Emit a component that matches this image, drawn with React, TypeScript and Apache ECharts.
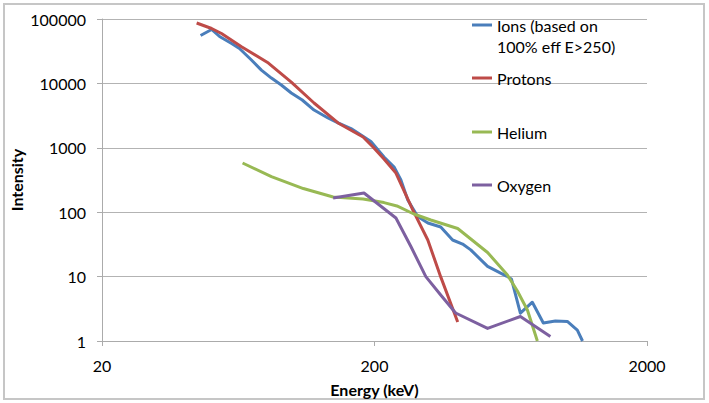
import React, { useEffect, useRef } from "react";
import * as echarts from "echarts";

const ionsEnergy = [46, 50.5, 54, 59.8, 63.9, 70.7, 76.9, 83.7, 91, 99, 108.6, 120, 135, 147, 164, 178.5, 194, 216.7, 236, 250, 265, 288, 314, 350, 387, 421, 451, 520, 610, 636, 686, 759, 833, 922, 1020, 1110, 1160];
const ionsIntensity = [55400, 68700, 53500, 41700, 34800, 23100, 16100, 12100, 9440, 7100, 5520, 3860, 2900, 2430, 1990, 1580, 1250, 720, 503, 316, 155, 86, 68, 59, 37, 32, 26, 14.4, 10.2, 9.2, 2.7, 4.0, 1.9, 2.04, 2.01, 1.48, 1.0];

const protonsEnergy = [44.5, 50.5, 54.9, 65, 81.6, 99, 120, 147, 181.6, 197.5, 216.7, 239.7, 276.6, 313.8, 350, 404];
const protonsIntensity = [86700, 71200, 59500, 37100, 20700, 10500, 4960, 2430, 1470, 1030, 670, 406, 108, 37, 9.9, 1.97];

const heliumEnergy = [65.6, 83.7, 109.6, 141, 181.6, 216.7, 241.7, 278.9, 321.8, 404, 520, 615, 669, 728, 792];
const heliumIntensity = [581, 358, 233, 172, 160, 141, 125, 93.8, 75.7, 55.8, 23.7, 10.6, 5.98, 3.03, 1.0];

const oxygenEnergy = [141, 183, 239.7, 272, 308.6, 350, 397, 520, 686, 884];
const oxygenIntensity = [166, 199, 81.3, 29.3, 10.0, 5.18, 2.72, 1.57, 2.4, 1.17];

const xTickValues = [20, 200, 2000];

const seriesNames = ["Ions (based on 100% eff E>250)", "Protons", "Helium", "Oxygen"];
const seriesColors = ["#4A7EBB", "#BE4B48", "#98B954", "#7D60A0"];

const FONT = "Lato, 'Open Sans', sans-serif";

function pairs(xs: number[], ys: number[]) {
  return xs.map((x, i) => [x, ys[i]]);
}

export default function App() {
  const ref = useRef<HTMLDivElement>(null);

  useEffect(() => {
    document.body.style.margin = "0";
    if (!ref.current) return;
    const chart = echarts.init(ref.current, undefined, { renderer: "svg" });

    const datasets = [
      pairs(ionsEnergy, ionsIntensity),
      pairs(protonsEnergy, protonsIntensity),
      pairs(heliumEnergy, heliumIntensity),
      pairs(oxygenEnergy, oxygenIntensity),
    ];

    const legendTops = [16, 69, 123, 176];

    const legends = seriesNames.map((name, i) => ({
      show: true,
      data: [name],
      left: 472,
      top: legendTops[i],
      padding: 0,
      itemWidth: 20,
      itemHeight: 18,
      icon: "path://M0,0 H20 V3 H0 Z",
      symbolKeepAspect: true,
      selectedMode: false,
      formatter: (n: string) => (i === 0 ? "Ions (based on" : n),
      textStyle: { fontFamily: FONT, fontSize: 16, color: "#000", lineHeight: 18 },
    }));

    const fmt = (v: number) => String(Math.round(v));

    chart.setOption({
      animation: false,
      backgroundColor: "#fff",
      grid: { left: 100, right: 62, top: 19, bottom: 62, containLabel: false },
      legend: legends,
      graphic: [
        {
          type: "rect",
          shape: { x: 4, y: 4, width: 700, height: 395 },
          style: { fill: "none", stroke: "#c6c6c6", lineWidth: 2 },
          silent: true,
        },
        {
          type: "text",
          left: 497,
          top: 38,
          style: { text: "100% eff E>250)", font: `16px ${FONT}`, fill: "#000" },
          silent: true,
        },
      ],
      xAxis: {
        type: "log",
        logBase: 10,
        min: 20,
        max: 2000,
        name: "Energy (keV)",
        nameLocation: "middle",
        nameGap: 40,
        nameMoveOverlap: false,
        nameTextStyle: { fontFamily: FONT, fontSize: 16, fontWeight: "bold", color: "#000" },
        axisLine: { show: true, lineStyle: { color: "#ababab", width: 1 } },
        axisTick: { show: true, length: 5, customValues: xTickValues, lineStyle: { color: "#ababab" } },
        axisLabel: {
          customValues: xTickValues,
          margin: 16,
          fontFamily: FONT,
          fontSize: 16,
          color: "#000",
          formatter: fmt,
          align: "center",
          alignMinLabel: "center",
          alignMaxLabel: "center",
          hideOverlap: false,
        },
        splitLine: { show: false },
        minorTick: { show: false },
      },
      yAxis: {
        type: "log",
        logBase: 10,
        min: 1,
        max: 100000,
        name: "Intensity",
        nameLocation: "middle",
        nameGap: 78,
        nameMoveOverlap: false,
        nameTextStyle: { fontFamily: FONT, fontSize: 16, fontWeight: "bold", color: "#000" },
        axisLine: { show: true, lineStyle: { color: "#ababab", width: 1 } },
        axisTick: { show: true, length: 5, lineStyle: { color: "#ababab" } },
        axisLabel: { margin: 16, fontFamily: FONT, fontSize: 16, color: "#000", formatter: fmt },
        splitLine: { show: true, lineStyle: { color: "#b3b3b3", width: 1 } },
      },
      series: seriesNames.map((name, i) => ({
        name,
        type: "line",
        data: datasets[i],
        symbol: "none",
        showSymbol: false,
        color: seriesColors[i],
        lineStyle: { width: 3, color: seriesColors[i], join: "round" },
        clip: true,
        z: 2 + i,
      })),
    });

    return () => chart.dispose();
  }, []);

  return <div ref={ref} style={{ width: 709, height: 403 }} />;
}
